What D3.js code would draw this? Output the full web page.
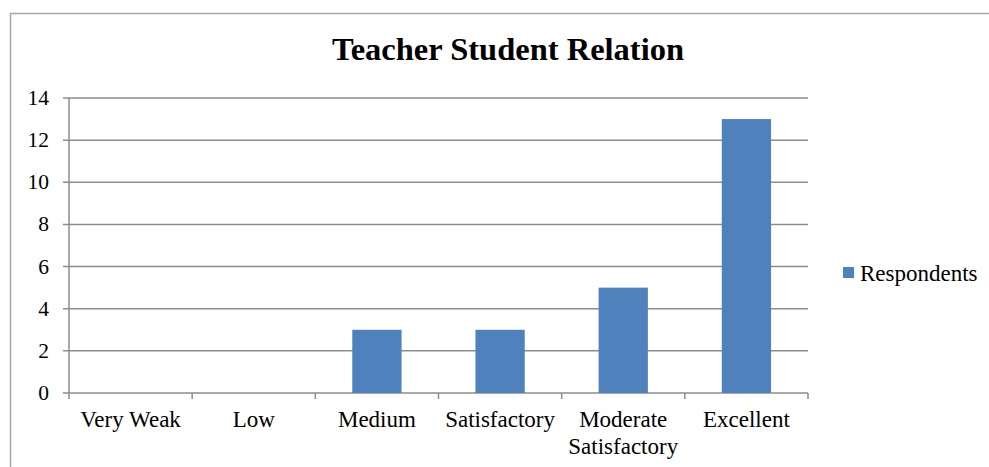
<!DOCTYPE html>
<meta charset="utf-8">
<style>
body { margin: 0; background: #fff; }
text { font-family: "Liberation Serif", "Times New Roman", serif; fill: #000; }
</style>
<svg id="chart" width="989" height="467"></svg>
<script src="https://d3js.org/d3.v7.min.js"></script>
<script>
// data
var categories = ["Very Weak", "Low", "Medium", "Satisfactory", "Moderate Satisfactory", "Excellent"]
var respondents = [0, 0, 3, 3, 5, 13]
var yTicks = [0, 2, 4, 6, 8, 10, 12, 14]
var seriesName = "Respondents"

var svg = d3.select("#chart")
var plot = {left: 69, right: 808, top: 98, bottom: 393}
var barColor = "#4f81bd"
var gridColor = "#8c8c8c"

// outer frame
svg.append("rect")
   .attr("x", 10.5).attr("y", 13.5)
   .attr("width", 1000).attr("height", 500)
   .attr("fill", "none").attr("stroke", "#a6a6a6").attr("stroke-width", 1.5)

svg.append("text")
   .attr("x", 508).attr("y", 60)
   .attr("text-anchor", "middle")
   .style("font-size", "32.5px").style("font-weight", "bold")
   .text("Teacher Student Relation")

var x = d3.scaleBand().domain(categories).range([plot.left, plot.right]).paddingInner(0.6).paddingOuter(0.3)
var xOuter = d3.scaleBand().domain(categories).range([plot.left, plot.right])
var y = d3.scaleLinear().domain([0, 14]).range([plot.bottom, plot.top])

// gridlines
svg.append("g").selectAll("line").data(yTicks).enter().append("line")
   .attr("x1", plot.left - 6).attr("x2", plot.right)
   .attr("y1", d => y(d)).attr("y2", d => y(d))
   .attr("stroke", gridColor).attr("stroke-width", 1.5)

// y axis line
svg.append("line")
   .attr("x1", plot.left).attr("x2", plot.left)
   .attr("y1", plot.top).attr("y2", plot.bottom)
   .attr("stroke", gridColor).attr("stroke-width", 1.5)

// category ticks
var tickX = categories.map(c => xOuter(c) + xOuter.bandwidth()).concat([plot.left])
svg.append("g").selectAll("line").data(tickX).enter().append("line")
   .attr("x1", d => d).attr("x2", d => d)
   .attr("y1", plot.bottom).attr("y2", plot.bottom + 6)
   .attr("stroke", gridColor).attr("stroke-width", 1.5)

svg.append("g").selectAll("text").data(yTicks).enter().append("text")
   .attr("x", 49).attr("y", d => y(d) + 7)
   .attr("text-anchor", "end")
   .style("font-size", "21.5px")
   .text(d => d)

// bars
svg.append("g").selectAll("rect").data(respondents).enter().append("rect")
   .attr("x", (d, i) => x(categories[i]))
   .attr("width", x.bandwidth())
   .attr("y", d => y(d))
   .attr("height", d => plot.bottom - y(d))
   .attr("fill", barColor)

// category labels, wrapped
var labels = svg.append("g").selectAll("text").data(categories).enter().append("text")
   .attr("x", d => xOuter(d) + xOuter.bandwidth() / 2)
   .attr("y", 427)
   .attr("text-anchor", "middle")
   .style("font-size", "23px")
labels.each(function(d) {
  var words = d.split(" ")
  var el = d3.select(this)
  if (words.length > 1 && d.length > 12) {
    words.forEach(function(w, i) {
      el.append("tspan").attr("x", xOuter(d) + xOuter.bandwidth() / 2).attr("dy", i ? 27 : 0).text(w)
    })
  } else {
    el.text(d)
  }
})

// legend
svg.append("rect").attr("x", 843).attr("y", 267).attr("width", 11).attr("height", 11).attr("fill", barColor)
svg.append("text").attr("x", 860).attr("y", 281).style("font-size", "23px").text(seriesName)
</script>
